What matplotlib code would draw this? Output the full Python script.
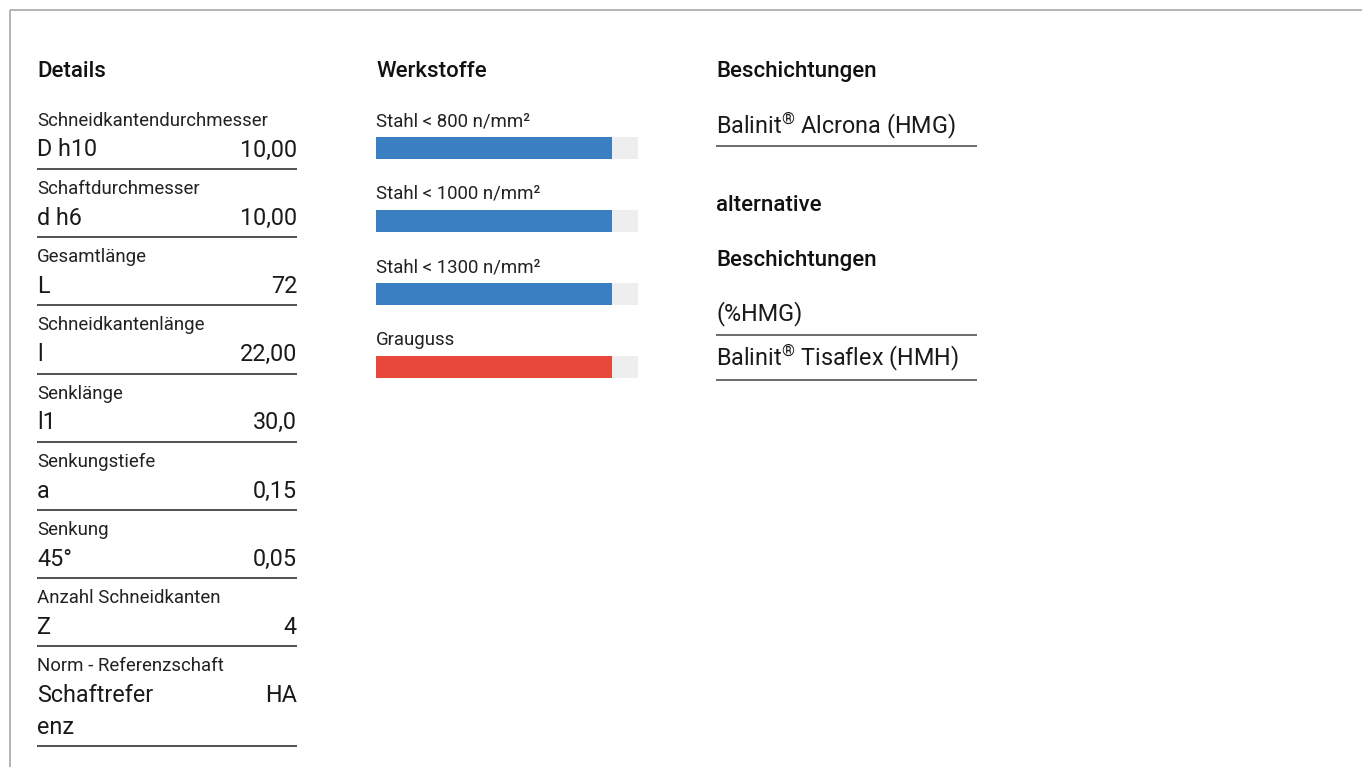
import matplotlib
matplotlib.use("Agg")
import matplotlib.pyplot as plt
import numpy as np

plt.rcParams['font.family'] = ['Roboto', 'DejaVu Sans']
plt.rcParams['mathtext.fontset'] = 'custom'
plt.rcParams['mathtext.rm'] = 'Roboto'
plt.rcParams['mathtext.it'] = 'Roboto:italic'
plt.rcParams['mathtext.bf'] = 'Roboto:bold'

# data
detail_labels = ['Schneidkantendurchmesser', 'Schaftdurchmesser', 'Gesamtlänge',
                 'Schneidkantenlänge', 'Senklänge', 'Senkungstiefe', 'Senkung',
                 'Anzahl Schneidkanten', 'Norm - Referenzschaft']
detail_symbols = ['D h10', 'd h6', 'L', 'l', 'l1', 'a', '45°', 'Z', 'Schaftrefer\nenz']
detail_values = ['10,00', '10,00', '72', '22,00', '30,0', '0,15', '0,05', '4', 'HA']

materials = ['Stahl < 800 n/mm²', 'Stahl < 1000 n/mm²', 'Stahl < 1300 n/mm²', 'Grauguss']
material_scores = [90, 90, 90, 90]
material_max = 100
material_colors = ['#3a7fc1', '#3a7fc1', '#3a7fc1', '#e8483c']

coatings = ['Balinit® Alcrona (HMG)']
alt_coatings = ['(%HMG)', 'Balinit® Tisaflex (HMH)']

W, H = 1362, 767
fig = plt.figure(figsize=(W / 100, H / 100), dpi=100)
fig.patch.set_facecolor('white')

# page axes in pixel coords (y down)
pg = fig.add_axes([0, 0, 1, 1])
pg.set_xlim(0, W)
pg.set_ylim(H, 0)
pg.axis('off')

# frame lines top/left
pg.plot([10, W], [10, 10], color='#a8a8a8', lw=1.2, solid_capstyle='butt')
pg.plot([10, 10], [10, H], color='#a8a8a8', lw=1.2, solid_capstyle='butt')

head_kw = dict(fontsize=16, fontweight='medium', color='#111111', va='baseline')
lab_kw = dict(fontsize=13.4, color='#222222', va='baseline')
val_kw = dict(fontsize=16.8, color='#1a1a1a', va='baseline')

# --- Details column
x0, x1 = 37, 297
pg.text(x0, 77, 'Details', **head_kw)
step = 68.2
lines = [169 + step * i for i in range(8)] + [746]
prev = 169 - step
for lbl, sym, val, ly in zip(detail_labels, detail_symbols, detail_values, lines):
    pg.text(x0, prev + 25, lbl, **lab_kw)
    sym_lines = sym.split('\n')
    n = len(sym_lines)
    for k, s in enumerate(sym_lines):
        pg.text(x0, ly - 12.5 - 31 * (n - 1 - k), s, **val_kw)
    pg.text(x1, ly - 12.5 - 31 * (n - 1), val, ha='right', **val_kw)
    pg.plot([x0, x1], [ly, ly], color='#222222', lw=1.1, solid_capstyle='butt')
    prev = ly

# --- Werkstoffe column
pg.text(376, 77, 'Werkstoffe', **head_kw)
bx0, bx1, btop, bbot = 376, 638, 137, 378
bar_px, gap_px = 22, 73
axb = fig.add_axes([bx0 / W, 1 - bbot / H, (bx1 - bx0) / W, (bbot - btop) / H])
y = np.arange(len(materials))
hgt = bar_px / gap_px
axb.barh(y, [material_max] * len(materials), height=hgt, color='#eeeeee')
axb.barh(y, material_scores, height=hgt, color=material_colors)
axb.set_xlim(0, material_max)
axb.set_ylim(len(materials) - 1 + hgt / 2, -hgt / 2)
axb.axis('off')
for i, m in enumerate(materials):
    pg.text(376, btop + i * gap_px - 11, m, **lab_kw)


# --- Beschichtungen column
def reg(s):
    return s.replace('®', r'$^{\mathrm{®}}$')


cx0, cx1 = 716, 977
pg.text(cx0, 77, 'Beschichtungen', **head_kw)
pg.text(cx0, 133, reg(coatings[0]), **val_kw)
pg.plot([cx0, cx1], [146, 146], color='#444444', lw=1.1, solid_capstyle='butt')
pg.text(cx0, 211, 'alternative', **head_kw)
pg.text(cx0, 266, 'Beschichtungen', **head_kw)
for s, by, ly in zip(alt_coatings, [320, 365], [335, 380]):
    pg.text(cx0, by, reg(s), **val_kw)
    pg.plot([cx0, cx1], [ly, ly], color='#444444', lw=1.1, solid_capstyle='butt')

fig.savefig('out.png', dpi=100, facecolor='white')
